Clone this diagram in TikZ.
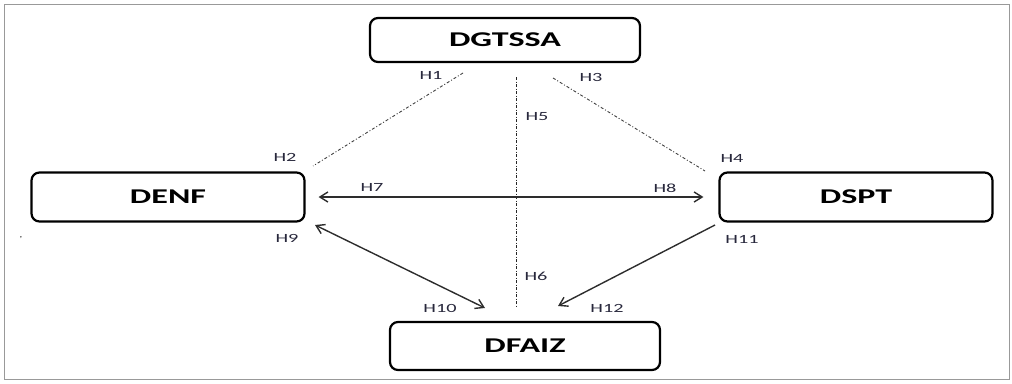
\documentclass[tikz,border=0pt]{standalone}
\usepackage{graphicx}
\usepackage{fontspec}
\setmainfont{Carlito}
\usetikzlibrary{arrows.meta,calc}
\definecolor{lblcol}{RGB}{40,40,60}
\definecolor{linecol}{RGB}{45,45,45}
\newcommand{\wide}[1]{\scalebox{1.62}[1]{#1}}
\tikzset{
  unit/.style={draw=black, line width=2.2pt, rounded corners=8pt, minimum width=270pt, minimum height=47pt, inner sep=0pt, font=\fontsize{21}{21}\selectfont\bfseries},
  hlab/.style={text=lblcol, font=\fontsize{12.5}{13}\selectfont, inner sep=0pt},
  dashdot/.style={draw=gray!50!black, line width=0.9pt, dash pattern=on 3pt off 2pt on 1pt off 2pt},
  vdashdot/.style={draw=black!85, line width=1pt, dash pattern=on 3pt off 1.5pt on 1pt off 1.5pt},
  conn/.style={draw=linecol, line width=1.4pt, {Straight Barb[length=8pt,width=10pt,line width=1.4pt]}-{Straight Barb[length=8pt,width=10pt,line width=1.4pt]}},
  oneway/.style={draw=linecol, line width=1.4pt, -{Straight Barb[length=8pt,width=10pt,line width=1.4pt]}}
}
\begin{document}
\begin{tikzpicture}[x=1pt,y=-1pt]
\useasboundingbox (0,0) rectangle (1012,383);
\draw[gray!80, line width=1pt] (4,4) rectangle (1009,379);
% boxes
\node[unit, minimum width=270pt, minimum height=44pt] (DGTSSA) at (505,40) {\wide{DGTSSA}};
\node[unit, minimum width=273pt, minimum height=49pt] (DENF) at (168,197) {\wide{DENF}};
\node[unit, minimum width=273pt, minimum height=49pt] (DSPT) at (856,197) {\wide{DSPT}};
\node[unit, minimum width=270pt, minimum height=48pt] (DFAIZ) at (525,346) {\wide{DFAIZ}};
% connector end points
\coordinate (h1a) at (463,73);
\coordinate (h2a) at (313,166);
\coordinate (h3a) at (553,78);
\coordinate (h4a) at (705,171);
\coordinate (h5a) at (516,77);
\coordinate (h6a) at (516,308);
\coordinate (h9a) at (315,225);
\coordinate (h10a) at (485,308);
\coordinate (h11a) at (715,225);
\coordinate (h12a) at (558,306);
% dash-dot links
\draw[dashdot] (h1a) -- (h2a);
\draw[dashdot] (h3a) -- (h4a);
\draw[vdashdot] (h5a) -- (h6a);
% arrows
\draw[conn, shorten <=13pt, shorten >=15pt] (DENF.east) -- (DSPT.west);
\draw[conn] (h9a) -- (h10a);
\draw[oneway] (h11a) -- (h12a);
% labels
\node[hlab] (H1) at (431,75) {\wide{H1}};
\node[hlab] (H2) at (285,157) {\wide{H2}};
\node[hlab] (H3) at (591,77) {\wide{H3}};
\node[hlab] (H4) at (732,158) {\wide{H4}};
\node[hlab] (H5) at (537,117) {\wide{H5}};
\node[hlab] (H6) at (536,276) {\wide{H6}};
\node[hlab] (H7) at (372,187) {\wide{H7}};
\node[hlab] (H8) at (665,188) {\wide{H8}};
\node[hlab] (H9) at (287,238) {\wide{H9}};
\node[hlab] (H10) at (440,308) {\wide{H10}};
\node[hlab] (H11) at (742,239) {\wide{H11}};
\node[hlab] (H12) at (607,308) {\wide{H12}};
\node[inner sep=0pt, font=\small] (comma) at (21,238) {,};
\end{tikzpicture}
\end{document}
